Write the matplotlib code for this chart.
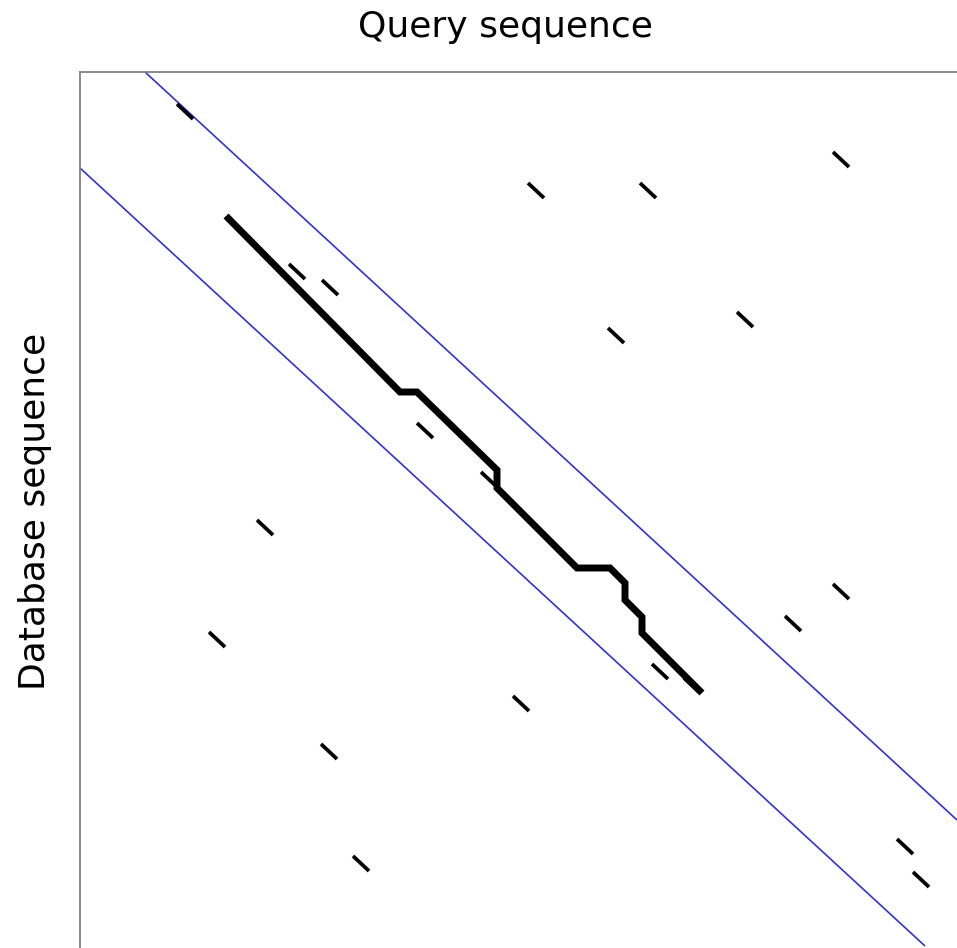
import matplotlib
matplotlib.use('Agg')
import matplotlib.pyplot as plt
import numpy as np

## Figure size in pixels
W, H = 957, 948

## Best alignment path (query pos, database pos)
path_q = [146, 320, 337, 417, 417, 497, 530, 545, 545, 562, 562, 622]
path_d = [144, 320, 320, 398, 416, 496, 496, 511, 528, 545, 561, 621]

## Short diagonal hits: start (query, database)
hit_q = [97, 209, 242, 448, 560, 753, 528, 657, 337, 401, 177,
         129, 705, 753, 572, 604, 433, 241, 273, 817, 833]
hit_d = [32, 192, 208, 111, 111, 80, 256, 240, 351, 400, 448,
         560, 544, 512, 592, 606, 624, 672, 784, 767, 800]
hit_len_q = 16
hit_len_d = 15

## Search band limits (two lines, endpoints)
band_upper_q = [65, 877]
band_upper_d = [0, 748]
band_lower_q = [0, 845]
band_lower_d = [96, 874]

fig = plt.figure(figsize=(W/100, H/100), dpi=100)
# axes box: left edge at 80px, top at 72px, runs off the image right/bottom
ax = fig.add_axes([80/W, (H - 952)/H, 880/W, 880/H])
ax.set_xlim(0, 880)
ax.set_ylim(880, 0)

## band
ax.plot(band_upper_q, band_upper_d, color='#3333cc', lw=1.2, solid_capstyle='butt')
ax.plot(band_lower_q, band_lower_d, color='#3333cc', lw=1.2, solid_capstyle='butt')

## hits
for q0, d0 in zip(hit_q, hit_d):
    ax.plot([q0, q0 + hit_len_q], [d0, d0 + hit_len_d], color='black',
            lw=2.7, solid_capstyle='butt')

## path
ax.plot(path_q, path_d, color='black', lw=5.0, solid_capstyle='butt',
        solid_joinstyle='miter')

ax.set_xticks([])
ax.set_yticks([])
for s in ax.spines.values():
    s.set_color('#808080')
    s.set_linewidth(1.3)

fig.text(505/W, (H - 37)/H, 'Query sequence', fontsize=26, ha='center',
         va='baseline')
fig.text(45/W, (H - 511)/H, 'Database sequence', fontsize=26, ha='center',
         va='baseline', rotation=90, rotation_mode='anchor')

plt.savefig("out.png", dpi=100)
